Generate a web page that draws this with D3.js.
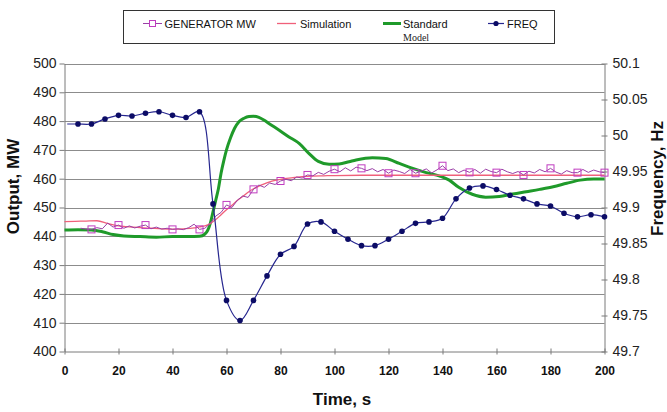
<!DOCTYPE html>
<html>
<head>
<meta charset="utf-8">
<script src="https://cdn.jsdelivr.net/npm/d3@7"></script>
<style>
  html, body { margin: 0; padding: 0; background: #fff; }
  svg { display: block; font-family: "Liberation Sans", Arial, sans-serif; }
</style>
</head>
<body>
<svg id="chart" width="667" height="412"></svg>
<script>
// ---- data ----
const xTicks = [0, 20, 40, 60, 80, 100, 120, 140, 160, 180, 200];
const mwTicks = [400, 410, 420, 430, 440, 450, 460, 470, 480, 490, 500];
const hzTicks = [49.7, 49.75, 49.8, 49.85, 49.9, 49.95, 50, 50.05, 50.1];

// measured generator output (MW), 2 s samples
const genTime = [6,8,10,12,14,16,18,20,22,24,26,28,30,32,34,36,38,40,42,44,46,48,50,
  52,54,56,58,60,62,64,66,68,70,72,74,76,78,80,82,84,86,88,90,92,94,96,98,100,
  102,104,106,108,110,112,114,116,118,120,122,124,126,128,130,132,134,136,138,140,
  142,144,146,148,150,152,154,156,158,160,162,164,166,168,170,172,174,176,178,180,
  182,184,186,188,190,192,194,196,198,200];
const genMW = [442.8,442.5,442.4,443.0,442.6,444.6,443.2,443.9,442.8,443.6,442.9,443.5,443.9,442.6,443.2,442.5,442.8,442.4,442.6,442.3,443.0,444.2,442.4,
  442.8,444.5,447.0,448.3,450.9,450.0,452.5,454.0,453.5,456.3,457.8,457.0,458.5,458.0,459.2,459.8,459.3,460.6,460.2,461.3,461.0,462.2,461.5,462.6,463.3,
  462.4,463.8,462.7,464.0,463.6,462.8,463.5,462.4,463.2,461.9,463.0,462.5,461.8,463.2,461.9,462.6,463.4,462.0,463.1,464.5,
  462.8,463.4,462.1,463.0,462.2,463.2,461.9,463.3,462.5,462.1,463.3,462.4,461.8,462.5,461.3,462.6,462.0,463.2,462.4,463.6,
  462.3,461.6,462.8,462.1,462.1,463.2,462.2,463.0,462.4,462.1];

// simulated output (MW)
const simTime = [0,4,8,12,16,20,24,28,32,36,40,44,48,50,52,54,56,58,60,62,64,66,68,70,72,74,76,78,80,84,88,92,96,100,110,120,140,160,180,200];
const simMW = [445.1,445.2,445.3,445.4,444.5,443.6,443.3,443.0,442.8,442.6,442.5,442.6,442.9,443.3,443.6,444.4,445.8,447.5,449.2,450.8,452.4,453.8,455.3,456.5,457.4,458.2,458.9,459.4,459.8,460.3,460.7,460.9,461.0,461.1,461.2,461.2,461.2,461.2,461.2,461.2];

// standard model output (MW)
const stdTime = [0,5,10,14,18,22,28,34,40,46,50,52,53,54,55,56,57,58,59,60,61.5,63,64.6,66.5,68.3,70,72,74,75.7,79.4,83,87,90.5,94,98,101.7,105.4,108,114,119,124,129,134,139,142.5,146,151,156,161,166,171,176,181,186,191,196,200];
const stdMW = [442.2,442.3,442.2,441.6,440.6,440.1,439.9,439.7,439.9,439.9,440.0,440.8,442.0,444.5,448.5,452.5,456.5,462.0,466.3,470.0,474.2,477.5,479.8,481.0,481.6,481.7,481.3,480.3,479.2,476.9,474.6,472.2,468.8,466.0,465.0,465.1,465.9,466.5,467.3,467.0,465.3,463.6,462.1,460.9,459.5,457.0,454.6,453.6,453.8,454.7,455.5,456.3,457.2,458.4,459.5,459.9,459.9];

// system frequency (Hz)
const freqTime = [1,5,10,15,20,25,30,35,40,45,50,55,60,65,70,75,80,85,90,95,100,105,110,115,120,125,130,135,140,145,150,155,160,165,170,175,180,185,190,195,200];
const freqHz = [50.016,50.016,50.016,50.023,50.028,50.027,50.031,50.033,50.028,50.025,50.033,49.905,49.771,49.743,49.771,49.805,49.835,49.846,49.877,49.880,49.867,49.856,49.847,49.847,49.856,49.867,49.878,49.880,49.885,49.912,49.927,49.930,49.925,49.917,49.912,49.905,49.902,49.892,49.887,49.890,49.887];

// ---- layout ----
const svg = d3.select("#chart");
const plotL = 64.5, plotR = 604.5, plotT = 63.5, plotB = 351.5;

const x = d3.scaleLinear().domain([0, 200]).range([plotL, plotR]);
const yMW = d3.scaleLinear().domain([400, 500]).range([plotB, plotT]);
const yHz = d3.scaleLinear().domain([49.7, 50.1]).range([plotB, plotT]);

const gridColor = "#8c8c8c";
const axisColor = "#7a7a7a";

// horizontal gridlines
svg.append("g")
  .selectAll("line")
  .data(mwTicks.filter(d => d > 400))
  .join("line")
  .attr("x1", plotL).attr("x2", plotR)
  .attr("y1", d => Math.round(yMW(d)) + 0.5).attr("y2", d => Math.round(yMW(d)) + 0.5)
  .attr("stroke", gridColor).attr("stroke-width", 1);

// left axis
const gL = svg.append("g")
  .attr("transform", `translate(${plotL},0)`)
  .call(d3.axisLeft(yMW).tickValues(mwTicks).tickSize(5).tickSizeOuter(0).tickPadding(3));
gL.select(".domain").attr("stroke", axisColor);
gL.selectAll(".tick line").attr("stroke", axisColor);
gL.selectAll(".tick text").attr("font-size", 14).attr("fill", "#222")
  .attr("font-family", "Liberation Sans, Arial, sans-serif");

// right axis (ticks cross the line)
const gR = svg.append("g")
  .attr("transform", `translate(${plotR},0)`)
  .call(d3.axisRight(yHz).tickValues(hzTicks).tickSize(3).tickSizeOuter(0).tickPadding(5)
    .tickFormat(d => String(+d.toFixed(2))));
gR.select(".domain").attr("stroke", axisColor);
gR.selectAll(".tick line").attr("x1", -3).attr("stroke", axisColor);
gR.selectAll(".tick text").attr("font-size", 14).attr("fill", "#222")
  .attr("font-family", "Liberation Sans, Arial, sans-serif");

// bottom axis
const gB = svg.append("g")
  .attr("transform", `translate(0,${plotB})`)
  .call(d3.axisBottom(x).tickValues(xTicks).tickSize(3).tickSizeOuter(0).tickPadding(12));
gB.select(".domain").attr("stroke", axisColor);
gB.selectAll(".tick line").attr("y1", -3).attr("stroke", axisColor);
gB.selectAll(".tick text").attr("font-size", 12).attr("font-weight", "bold").attr("fill", "#111")
  .attr("font-family", "Liberation Sans, Arial, sans-serif");

// axis titles
svg.append("text")
  .attr("transform", `translate(19,${(plotT + plotB) / 2 - 21}) rotate(-90)`)
  .attr("text-anchor", "middle")
  .attr("font-size", 17).attr("font-weight", "bold").attr("fill", "#111")
  .text("Output, MW");

svg.append("text")
  .attr("transform", `translate(663,${(plotT + plotB) / 2 - 29}) rotate(-90)`)
  .attr("text-anchor", "middle")
  .attr("font-size", 17).attr("font-weight", "bold").attr("fill", "#111")
  .text("Frequency, Hz");

svg.append("text")
  .attr("x", 342).attr("y", 405)
  .attr("text-anchor", "middle")
  .attr("font-size", 17).attr("font-weight", "bold").attr("fill", "#111")
  .text("Time, s");

// ---- series ----
const colGen = "#9a3fa6", colGenMark = "#c03cc0";
const colSim = "#f0607a";
const colStd = "#1f9a2a";
const colFreq = "#26268f", colFreqMark = "#0c0c66";

const plot = svg.append("g");

// standard model
plot.append("path")
  .datum(stdTime.map((t, i) => [t, stdMW[i]]))
  .attr("fill", "none").attr("stroke", colStd).attr("stroke-width", 3)
  .attr("stroke-linejoin", "round")
  .attr("d", d3.line().x(d => x(d[0])).y(d => yMW(d[1])).curve(d3.curveMonotoneX));

// simulation
plot.append("path")
  .datum(simTime.map((t, i) => [t, simMW[i]]))
  .attr("fill", "none").attr("stroke", colSim).attr("stroke-width", 1.3)
  .attr("d", d3.line().x(d => x(d[0])).y(d => yMW(d[1])).curve(d3.curveMonotoneX));

// generator measured
const genData = genTime.map((t, i) => [t, genMW[i]]);
plot.append("path")
  .datum(genData)
  .attr("fill", "none").attr("stroke", colGen).attr("stroke-width", 1)
  .attr("d", d3.line().x(d => x(d[0])).y(d => yMW(d[1])));
plot.append("g")
  .selectAll("rect")
  .data(genData.filter(d => d[0] % 10 === 0))
  .join("rect")
  .attr("x", d => x(d[0]) - 3.5).attr("y", d => yMW(d[1]) - 3.5)
  .attr("width", 7).attr("height", 7)
  .attr("fill", "none").attr("stroke", colGenMark).attr("stroke-width", 1);

// frequency
const freqData = freqTime.map((t, i) => [t, freqHz[i]]);
plot.append("path")
  .datum(freqData)
  .attr("fill", "none").attr("stroke", colFreq).attr("stroke-width", 1.2)
  .attr("d", d3.line().x(d => x(d[0])).y(d => yHz(d[1])).curve(d3.curveCatmullRom.alpha(0.5)));
plot.append("g")
  .selectAll("circle")
  .data(freqData.filter(d => d[0] % 5 === 0))
  .join("circle")
  .attr("cx", d => x(d[0])).attr("cy", d => yHz(d[1]))
  .attr("r", 2.8).attr("fill", colFreqMark);

// ---- legend ----
const lg = svg.append("g");
lg.append("rect")
  .attr("x", 123.5).attr("y", 10.5).attr("width", 431).attr("height", 33)
  .attr("fill", "#fff").attr("stroke", "#333").attr("stroke-width", 1);
const ly = 23.5;
// generator
lg.append("line").attr("x1", 143).attr("x2", 162).attr("y1", ly).attr("y2", ly)
  .attr("stroke", colGen).attr("stroke-width", 1);
lg.append("rect").attr("x", 149.5).attr("y", ly - 3).attr("width", 6).attr("height", 6)
  .attr("fill", "#fff").attr("stroke", colGenMark);
lg.append("text").attr("x", 164.5).attr("y", 27.5).attr("font-size", 11).attr("fill", "#111")
  .text("GENERATOR MW");
// simulation
lg.append("line").attr("x1", 277).attr("x2", 296).attr("y1", ly).attr("y2", ly)
  .attr("stroke", colSim).attr("stroke-width", 1.3);
lg.append("text").attr("x", 300).attr("y", 27.5).attr("font-size", 11).attr("fill", "#111")
  .text("Simulation");
// standard model
lg.append("line").attr("x1", 383).attr("x2", 401).attr("y1", ly).attr("y2", ly)
  .attr("stroke", colStd).attr("stroke-width", 3);
lg.append("text").attr("x", 403).attr("y", 27.5).attr("font-size", 11).attr("fill", "#111")
  .text("Standard");
lg.append("text").attr("x", 403).attr("y", 40.5).attr("font-size", 10).attr("fill", "#222")
  .attr("font-family", "Liberation Serif, Times New Roman, serif")
  .text("Model");
// frequency
lg.append("line").attr("x1", 488).attr("x2", 504).attr("y1", ly).attr("y2", ly)
  .attr("stroke", colFreq).attr("stroke-width", 1.2);
lg.append("circle").attr("cx", 496).attr("cy", ly).attr("r", 2.6).attr("fill", colFreqMark);
lg.append("text").attr("x", 507).attr("y", 27.5).attr("font-size", 11).attr("fill", "#111")
  .text("FREQ");
</script>
</body>
</html>
